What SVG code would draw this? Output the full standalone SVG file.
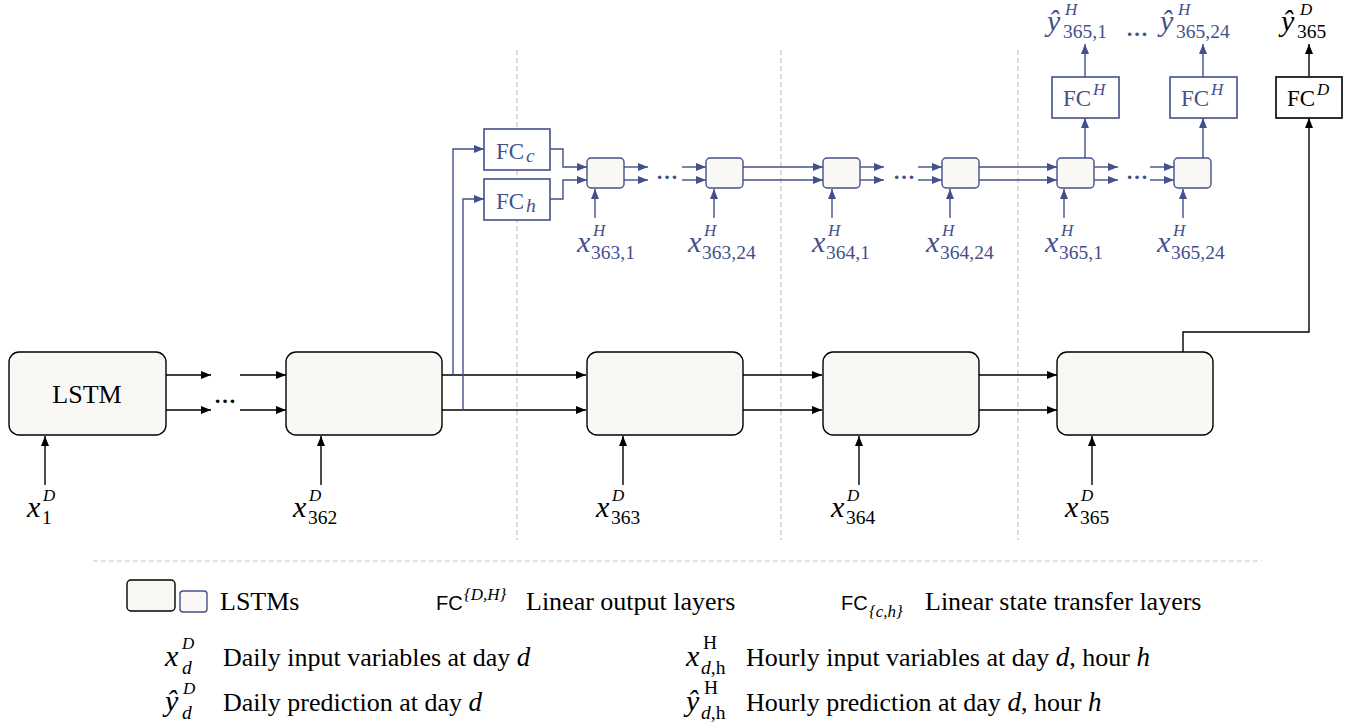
<svg xmlns="http://www.w3.org/2000/svg" width="1352" height="725" viewBox="0 0 1352 725">
<style>
.big{fill:#f9f8f5;stroke:#000;stroke-width:1.4}
.sm{fill:#f9f8f5;stroke:#44508c;stroke-width:1.4}
.fcb{fill:#fff;stroke:#44508c;stroke-width:1.6}
.fck{fill:#fff;stroke:#1a1a1a;stroke-width:1.8}
.ck{fill:none;stroke:#000;stroke-width:1.4}
.cb{fill:none;stroke:#44508c;stroke-width:1.4}
.ka{marker-end:url(#ak)}
.ba{marker-end:url(#ab)}
.dash{fill:none;stroke:#c4c4c4;stroke-width:1.2;stroke-dasharray:5 3}
.t{font-family:"Liberation Serif","DejaVu Serif",serif;font-size:26px;fill:#000}
.mx{font-family:"Liberation Serif","DejaVu Serif",serif;font-size:30px;font-style:italic}
.mi{font-family:"Liberation Serif","DejaVu Serif",serif;font-size:27px;font-style:italic}
.sup{font-family:"Liberation Serif","DejaVu Serif",serif;font-size:17px;font-style:italic}
.sub{font-family:"Liberation Serif","DejaVu Serif",serif;font-size:19.5px;font-style:normal}
.si{font-family:"Liberation Serif","DejaVu Serif",serif;font-size:19.5px;font-style:italic}
.fc{font-family:"Liberation Serif","DejaVu Serif",serif;font-size:23px;font-style:normal}
.sans{font-family:"Liberation Sans","DejaVu Sans",sans-serif;font-size:20px;font-style:normal}
.bl{fill:#44508c}
.dots{font-family:"Liberation Serif","DejaVu Serif",serif;font-size:22px;font-weight:bold;text-anchor:middle}
</style>
<defs>
<marker id="ak" viewBox="0 0 10 8" refX="10" refY="4" markerWidth="10" markerHeight="8" markerUnits="userSpaceOnUse" orient="auto"><path d="M0,0 L10,4 L0,8 z" fill="#000"/></marker>
<marker id="ab" viewBox="0 0 10 8" refX="10" refY="4" markerWidth="10" markerHeight="8" markerUnits="userSpaceOnUse" orient="auto"><path d="M0,0 L10,4 L0,8 z" fill="#44508c"/></marker>
</defs>

<g id="separators">
<path class="dash" d="M517,50 V540 M781,50 V540 M1018,50 V540"/>
<path class="dash" d="M93,561 H1262"/>
</g>

<g id="connectors">
<g class="ck">
<path class="ka" d="M166,375 H211"/><path class="ka" d="M166,410 H211"/>
<path class="ka" d="M240,375 H286"/><path class="ka" d="M240,410 H286"/>
<path class="ka" d="M442,375 H586"/><path class="ka" d="M442,410 H586"/>
<path class="ka" d="M743,375 H822"/><path class="ka" d="M743,410 H822"/>
<path class="ka" d="M979,375 H1057"/><path class="ka" d="M979,410 H1057"/>
<path class="ka" d="M45,485 V436"/><path class="ka" d="M321,485 V436"/>
<path class="ka" d="M623,485 V436"/><path class="ka" d="M859,485 V436"/>
<path class="ka" d="M1092,485 V436"/>
<path class="ka" d="M1183,352 V332 H1309 V118"/>
<path class="ka" d="M1309,77 V44"/>
</g>
<g class="cb">
<path class="ba" d="M453,375 V149 H484"/><path class="ba" d="M463,410 V199 H484"/>
<path class="ba" d="M550,149 H563 V167 H587"/><path class="ba" d="M550,199 H563 V180 H587"/>
<path class="ba" d="M624,167 H648"/><path class="ba" d="M624,180 H648"/>
<path class="ba" d="M682,167 H706"/><path class="ba" d="M682,180 H706"/>
<path class="ba" d="M743,167 H823"/><path class="ba" d="M743,180 H823"/>
<path class="ba" d="M860,167 H884"/><path class="ba" d="M860,180 H884"/>
<path class="ba" d="M918,167 H942"/><path class="ba" d="M918,180 H942"/>
<path class="ba" d="M979,167 H1057"/><path class="ba" d="M979,180 H1057"/>
<path class="ba" d="M1094,167 H1118"/><path class="ba" d="M1094,180 H1118"/>
<path class="ba" d="M1150,167 H1174"/><path class="ba" d="M1150,180 H1174"/>
<path class="ba" d="M595,218 V189"/><path class="ba" d="M714,218 V189"/>
<path class="ba" d="M832,218 V189"/><path class="ba" d="M950,218 V189"/>
<path class="ba" d="M1064,218 V189"/><path class="ba" d="M1183,218 V189"/>
<path class="ba" d="M1085,158 V118"/><path class="ba" d="M1085,77 V44"/>
<path class="ba" d="M1203,158 V118"/><path class="ba" d="M1203,77 V44"/>
</g>
<text class="dots" x="225" y="403">…</text>
<text class="dots bl" x="667" y="179">…</text>
<text class="dots bl" x="904" y="179">…</text>
<text class="dots bl" x="1137" y="179">…</text>
<text class="dots bl" x="1137" y="36">…</text>
</g>

<g id="lstm1"><rect class="big" x="9" y="352" width="157" height="83" rx="10"/><text class="t" x="87" y="403" font-size="25" text-anchor="middle">LSTM</text></g>
<g id="lstm362"><rect class="big" x="286" y="352" width="156" height="83" rx="10"/></g>
<g id="lstm363"><rect class="big" x="587" y="352" width="156" height="83" rx="10"/></g>
<g id="lstm364"><rect class="big" x="823" y="352" width="156" height="83" rx="10"/></g>
<g id="lstm365"><rect class="big" x="1057" y="352" width="156" height="83" rx="10"/></g>

<g id="fcc"><rect class="fcb" x="484" y="129" width="66" height="41"/><text class="fc bl" x="496" y="159">FC<tspan class="si" x="526" y="162">c</tspan></text></g>
<g id="fch"><rect class="fcb" x="484" y="179" width="66" height="41"/><text class="fc bl" x="496" y="209">FC<tspan class="si" x="526" y="212">h</tspan></text></g>

<g id="h363_1"><rect class="sm" x="587" y="158" width="37" height="30" rx="4"/></g>
<g id="h363_24"><rect class="sm" x="706" y="158" width="37" height="30" rx="4"/></g>
<g id="h364_1"><rect class="sm" x="823" y="158" width="37" height="30" rx="4"/></g>
<g id="h364_24"><rect class="sm" x="942" y="158" width="37" height="30" rx="4"/></g>
<g id="h365_1"><rect class="sm" x="1057" y="158" width="37" height="30" rx="4"/></g>
<g id="h365_24"><rect class="sm" x="1174" y="158" width="37" height="30" rx="4"/></g>

<g id="fcH1"><rect class="fcb" x="1052" y="77" width="67" height="41"/><text class="fc bl" x="1063" y="106">FC<tspan class="sup" x="1093" y="95">H</tspan></text></g>
<g id="fcH2"><rect class="fcb" x="1170" y="77" width="67" height="41"/><text class="fc bl" x="1181" y="106">FC<tspan class="sup" x="1211" y="95">H</tspan></text></g>
<g id="fcD"><rect class="fck" x="1276" y="77" width="66" height="41"/><text class="fc" x="1287" y="106">FC<tspan class="sup" x="1317" y="95">D</tspan></text></g>

<g id="labels-daily">
<text class="mx" x="27" y="517">x<tspan class="sup" x="43" y="501">D</tspan><tspan class="sub" x="42" y="524">1</tspan></text>
<text class="mx" x="293" y="517">x<tspan class="sup" x="309" y="501">D</tspan><tspan class="sub" x="308" y="524">362</tspan></text>
<text class="mx" x="596" y="517">x<tspan class="sup" x="612" y="501">D</tspan><tspan class="sub" x="611" y="524">363</tspan></text>
<text class="mx" x="831" y="517">x<tspan class="sup" x="847" y="501">D</tspan><tspan class="sub" x="846" y="524">364</tspan></text>
<text class="mx" x="1065" y="517">x<tspan class="sup" x="1081" y="501">D</tspan><tspan class="sub" x="1080" y="524">365</tspan></text>
</g>

<g id="labels-hourly">
<text class="mx bl" x="577" y="252">x<tspan class="sup" x="593" y="236">H</tspan><tspan class="sub" x="591" y="259">363,1</tspan></text>
<text class="mx bl" x="688" y="252">x<tspan class="sup" x="704" y="236">H</tspan><tspan class="sub" x="702" y="259">363,24</tspan></text>
<text class="mx bl" x="812" y="252">x<tspan class="sup" x="828" y="236">H</tspan><tspan class="sub" x="826" y="259">364,1</tspan></text>
<text class="mx bl" x="926" y="252">x<tspan class="sup" x="942" y="236">H</tspan><tspan class="sub" x="940" y="259">364,24</tspan></text>
<text class="mx bl" x="1045" y="252">x<tspan class="sup" x="1061" y="236">H</tspan><tspan class="sub" x="1059" y="259">365,1</tspan></text>
<text class="mx bl" x="1157" y="252">x<tspan class="sup" x="1173" y="236">H</tspan><tspan class="sub" x="1171" y="259">365,24</tspan></text>
</g>

<g id="labels-out">
<text class="mx bl" x="1047" y="31">ŷ<tspan class="sup" x="1065" y="15">H</tspan><tspan class="sub" x="1063" y="38">365,1</tspan></text>
<text class="mx bl" x="1160" y="31">ŷ<tspan class="sup" x="1178" y="15">H</tspan><tspan class="sub" x="1176" y="38">365,24</tspan></text>
<text class="mx" x="1281" y="31">ŷ<tspan class="sup" x="1300" y="15">D</tspan><tspan class="sub" x="1297" y="38">365</tspan></text>
</g>

<g id="legend">
<rect class="big" x="127" y="580" width="48" height="31" rx="4"/>
<rect class="sm" x="180" y="591" width="27" height="21" rx="3"/>
<text class="t" x="220" y="610">LSTMs</text>
<text class="sans" x="436" y="610">FC<tspan class="sup" x="464" y="600">{D,H}</tspan></text>
<text class="t" x="526" y="610">Linear output layers</text>
<text class="sans" x="841" y="610">FC<tspan class="sup" x="869" y="617" font-size="18">{c,h}</tspan></text>
<text class="t" x="925" y="610">Linear state transfer layers</text>

<text class="mx" x="165" y="666">x<tspan class="sup" x="182" y="649">D</tspan><tspan class="si" x="182" y="674">d</tspan></text>
<text class="t" x="223" y="666">Daily input variables at day <tspan class="mi">d</tspan></text>

<text class="mx" x="165" y="711">ŷ<tspan class="sup" x="183" y="694">D</tspan><tspan class="si" x="182" y="719">d</tspan></text>
<text class="t" x="223" y="711">Daily prediction at day <tspan class="mi">d</tspan></text>

<text class="mx" x="686" y="666">x<tspan class="sub" x="703" y="649" font-size="18">H</tspan><tspan class="si" x="701" y="674">d</tspan><tspan class="sub">,h</tspan></text>
<text class="t" x="746" y="666">Hourly input variables at day <tspan class="mi">d</tspan>, hour <tspan class="mi">h</tspan></text>

<text class="mx" x="686" y="711">ŷ<tspan class="sub" x="704" y="694" font-size="18">H</tspan><tspan class="si" x="701" y="719">d</tspan><tspan class="sub">,h</tspan></text>
<text class="t" x="746" y="711">Hourly prediction at day <tspan class="mi">d</tspan>, hour <tspan class="mi">h</tspan></text>
</g>
</svg>
